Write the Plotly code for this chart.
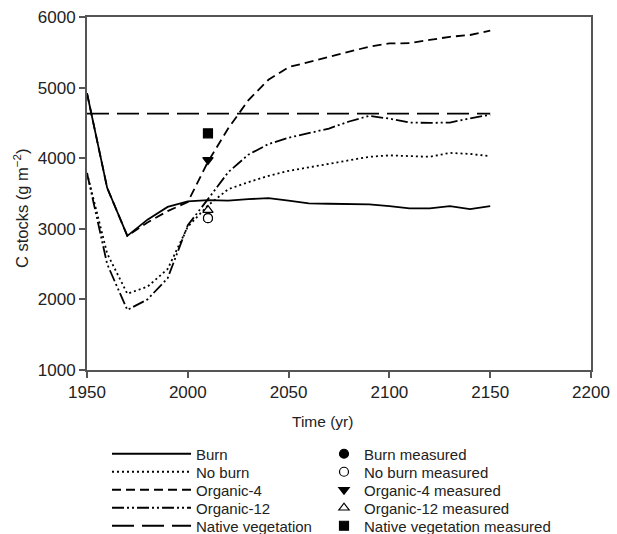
import plotly.graph_objects as go

years = [1950, 1960, 1970, 1980, 1990, 2000, 2010, 2020, 2030, 2040, 2050,
         2060, 2070, 2080, 2090, 2100, 2110, 2120, 2130, 2140, 2150]
burn = [4920, 3580, 2900, 3130, 3310, 3390, 3405, 3400, 3420, 3435, 3400,
        3360, 3355, 3350, 3345, 3320, 3290, 3290, 3320, 3280, 3320]
no_burn = [3790, 2650, 2080, 2180, 2430, 3030, 3330, 3560, 3660, 3750, 3820,
           3870, 3920, 3970, 4020, 4040, 4030, 4020, 4075, 4060, 4030]
organic4 = [4920, 3580, 2900, 3090, 3250, 3380, 3950, 4420, 4820, 5110, 5290,
            5360, 5440, 5510, 5580, 5625, 5630, 5675, 5720, 5745, 5806]
organic12 = [3790, 2500, 1850, 2000, 2300, 3050, 3420, 3800, 4050, 4200, 4290,
             4350, 4420, 4520, 4600, 4560, 4505, 4500, 4505, 4565, 4615]
native_veg = [4630] * len(years)

measured_year = [2010]
burn_measured = [3150]
no_burn_measured = [3150]
organic4_measured = [3975]
organic12_measured = [3265]
native_measured = [4352]

FONT = "Liberation Sans, Arial, sans-serif"
TXT = "#222222"
W, H = 617, 534
fig = go.Figure()

line_series = [
    ("Burn", burn, "solid"),
    ("No burn", no_burn, "2px,3px"),
    ("Organic-4", organic4, "9px,5px"),
    ("Organic-12", organic12, "12px,3px,2px,3px,2px,3px"),
    ("Native vegetation", native_veg, "22px,8px"),
]
marker_series = [
    ("Burn measured", burn_measured, "circle", "black"),
    ("No burn measured", no_burn_measured, "circle", "white"),
    ("Organic-4 measured", organic4_measured, "triangle-down", "black"),
    ("Organic-12 measured", organic12_measured, "triangle-up-open", "black"),
    ("Native vegetation measured", native_measured, "square", "black"),
]
row_y = [454, 472, 490, 508, 526]

legends = {}
k = 1
for i, (name, vals, dash) in enumerate(line_series):
    lid = "legend" if k == 1 else f"legend{k}"
    fig.add_trace(go.Scatter(x=years, y=vals, mode="lines", name=name, showlegend=True,
                             line=dict(color="black", width=1.8, dash=dash),
                             legend=lid))
    legends[lid] = dict(xref="container", yref="container", x=107 / W, y=1 - row_y[i] / H,
                        xanchor="left", yanchor="middle", itemwidth=79,
                        font=dict(family=FONT, size=15, color=TXT),
                        bgcolor="rgba(0,0,0,0)")
    k += 1
for i, (name, vals, sym, fill) in enumerate(marker_series):
    lid = f"legend{k}"
    fig.add_trace(go.Scatter(x=measured_year, y=vals, mode="markers", name=name, showlegend=True,
                             marker=dict(symbol=sym, color=fill, size=9,
                                         line=dict(color="black", width=1.2)),
                             legend=lid))
    legends[lid] = dict(xref="container", yref="container", x=324 / W, y=1 - row_y[i] / H,
                        xanchor="left", yanchor="middle", itemwidth=30,
                        font=dict(family=FONT, size=15, color=TXT),
                        bgcolor="rgba(0,0,0,0)")
    k += 1

axis_common = dict(showline=True, linecolor="#555555", linewidth=2, mirror=True,
                   ticks="outside", ticklen=6, tickcolor="#555555", tickwidth=1.5,
                   showgrid=False, zeroline=False,
                   tickfont=dict(family=FONT, size=17, color=TXT))

fig.update_layout(
    width=W, height=H, showlegend=True,
    margin=dict(l=87, r=26, t=17, b=164, autoexpand=False),
    paper_bgcolor="white", plot_bgcolor="white",
    font=dict(family=FONT, size=15, color=TXT),
    xaxis=dict(range=[1950, 2200], tickvals=[1950, 2000, 2050, 2100, 2150, 2200], **axis_common),
    yaxis=dict(range=[1000, 6000], tickvals=[1000, 2000, 3000, 4000, 5000, 6000], **axis_common),
    annotations=[
        dict(text="Time (yr)", xref="paper", yref="paper",
             x=(322 - 87) / 504, y=(370 - 421) / 353, xanchor="center", yanchor="middle",
             showarrow=False, font=dict(family=FONT, size=15.5, color=TXT)),
        dict(text="C stocks (g m<sup>−2</sup>)", xref="paper", yref="paper", textangle=-90,
             x=(21 - 87) / 504, y=(370 - 208) / 353, xanchor="center", yanchor="middle",
             showarrow=False, font=dict(family=FONT, size=16.5, color=TXT)),
    ],
    **legends,
)

fig.write_html("out.html")
